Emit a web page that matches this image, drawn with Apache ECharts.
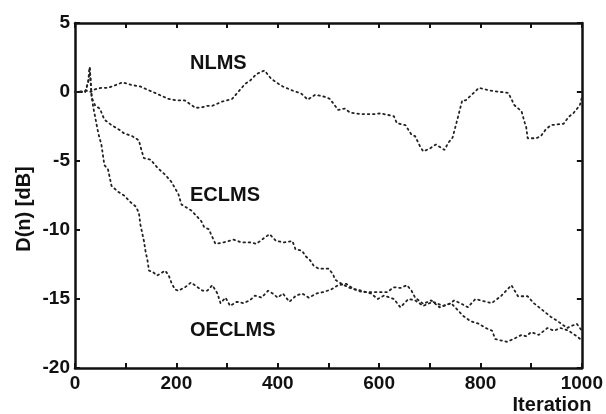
<!DOCTYPE html>
<html>
<head>
<meta charset="utf-8">
<script src="https://cdn.jsdelivr.net/npm/echarts@6/dist/echarts.min.js"></script>
<style>
  html, body { margin: 0; padding: 0; background: #fff; }
  #chart { width: 606px; height: 414px; }
</style>
</head>
<body>
<div id="chart"></div>
<script>
"use strict";

// NLMS 曲线
const nlmsX = [0, 13, 26, 31, 40, 52, 65, 80, 94, 113, 129, 141, 160, 184, 200, 216, 238, 252, 261, 271, 290, 310, 336, 346, 358, 374, 387, 404, 410, 433, 446, 459, 474, 493, 503, 519, 532, 543, 564, 590, 603, 629, 635, 652, 664, 671, 681, 687, 700, 712, 729, 736, 745, 755, 764, 771, 797, 819, 855, 867, 881, 887, 890, 893, 910, 919, 929, 939, 964, 974, 983, 996, 1000];
const nlmsY = [0, 0.05, 0.1, 0, 0.2, 0.3, 0.3, 0.5, 0.7, 0.5, 0.4, 0.2, -0.1, -0.5, -0.6, -0.6, -1.15, -1.1, -1.0, -1.0, -0.7, -0.5, 0.6, 0.84, 1.3, 1.56, 0.96, 0.53, 0.4, 0.05, -0.1, -0.55, -0.2, -0.35, -0.5, -1.3, -1.2, -1.5, -1.6, -1.6, -1.55, -1.75, -2.26, -2.4, -3.1, -3.2, -3.96, -4.3, -4.1, -3.8, -4.2, -3.7, -3.3, -1.9, -0.6, -0.6, 0.3, 0.1, -0.07, -0.96, -1.4, -2.2, -2.5, -3.35, -3.35, -3.2, -2.7, -2.4, -2.3, -1.8, -1.55, -0.96, -0.4];

// ECLMS 曲线
const eclmsX = [0, 20, 26, 29, 33, 40, 49, 58, 72, 88, 97, 113, 126, 131, 136, 149, 163, 178, 190, 204, 210, 230, 249, 255, 264, 277, 293, 313, 329, 345, 358, 374, 384, 397, 413, 429, 435, 448, 455, 464, 471, 481, 500, 509, 513, 526, 542, 565, 584, 597, 610, 629, 642, 658, 671, 687, 706, 726, 742, 755, 765, 780, 797, 810, 823, 829, 840, 852, 865, 881, 890, 900, 915, 932, 945, 958, 974, 990, 1000];
const eclmsY = [0, 0, 0.7, 1.8, -0.4, -1.0, -1.2, -2.0, -2.4, -2.75, -3.0, -3.2, -3.5, -4.2, -4.8, -4.9, -5.5, -6.0, -6.5, -7.4, -8.15, -8.6, -9.35, -9.8, -9.95, -11.0, -10.9, -10.7, -10.9, -10.9, -11.0, -10.55, -10.3, -10.8, -10.9, -10.8, -11.4, -11.5, -11.9, -12.2, -12.6, -12.8, -12.8, -13.2, -13.6, -13.9, -14.2, -14.4, -14.6, -15.0, -14.75, -15.0, -15.6, -15.0, -15.1, -15.5, -15.2, -15.5, -15.3, -15.8, -16.2, -16.6, -16.8, -17.1, -17.3, -17.9, -18.0, -18.1, -17.9, -17.6, -17.7, -17.4, -17.6, -17.1, -17.3, -17.1, -17.3, -17.7, -18.0];

// OECLMS 曲线
const oeclmsX = [0, 20, 26, 29, 33, 36, 46, 52, 55, 58, 65, 68, 72, 84, 97, 110, 120, 126, 129, 136, 139, 143, 146, 152, 162, 178, 185, 190, 197, 204, 217, 229, 242, 252, 261, 271, 281, 287, 297, 306, 319, 332, 345, 355, 368, 381, 390, 400, 410, 423, 436, 448, 461, 477, 490, 506, 519, 535, 551, 567, 597, 616, 629, 642, 655, 664, 671, 687, 703, 719, 739, 748, 760, 775, 790, 800, 822, 840, 861, 874, 893, 905, 919, 939, 952, 971, 983, 990, 1000];
const oeclmsY = [0, 0, 0.7, 1.8, -0.4, -1.1, -3.0, -3.8, -4.55, -5.3, -5.6, -6.1, -6.8, -7.2, -7.5, -8.0, -8.3, -8.75, -9.6, -10.8, -11.5, -12.2, -12.95, -13.0, -13.3, -12.95, -13.3, -13.8, -14.3, -14.4, -14.15, -13.8, -14.15, -14.4, -14.4, -14.0, -14.6, -15.3, -14.9, -15.5, -15.2, -15.3, -15.1, -14.75, -14.9, -14.4, -14.6, -14.9, -14.6, -15.2, -14.75, -14.6, -14.9, -14.6, -14.5, -14.3, -14.0, -13.9, -14.3, -14.5, -14.5, -14.5, -14.15, -14.2, -14.0, -14.4, -14.9, -15.35, -15.1, -15.6, -15.35, -15.1, -15.3, -15.6, -15.0, -15.1, -15.3, -14.8, -14.0, -14.8, -14.8, -15.3, -15.7, -16.3, -16.6, -17.1, -16.9, -16.8, -17.3];

// 坐标轴刻度
const xTicks = [0, 200, 400, 600, 800, 1000];
const yTicks = [5, 0, -5, -10, -15, -20];

function pairs(xs, ys) {
  return xs.map((x, i) => [x, ys[i]]);
}

const FONT = '"Liberation Sans", Arial, Helvetica, sans-serif';
const INK = '#111';

let myChart = echarts.init(document.getElementById('chart'));

// 扫描图里的点线比较稀疏
const lineStyle = {
  color: '#222',
  width: 1.8,
  type: [1.6, 3.6],
  cap: 'round',
};

const xCommon = {
  type: 'value',
  min: 0,
  max: 1000,
  interval: 100,
  splitLine: { show: false },
  axisLine: { show: true, onZero: false, lineStyle: { color: INK, width: 2.5 } },
  axisTick: { show: true, inside: true, length: 5, lineStyle: { color: INK, width: 2 } },
};

const yCommon = {
  type: 'value',
  min: -20,
  max: 5,
  interval: 5,
  splitLine: { show: false },
  axisLine: { show: true, onZero: false, lineStyle: { color: INK, width: 2.5 } },
  axisTick: { show: true, inside: true, length: 5, lineStyle: { color: INK, width: 2 } },
};

let option = {
  animation: false,
  backgroundColor: '#fff',
  grid: { left: 75, right: 13, top: 23, bottom: 46 },
  xAxis: [
    Object.assign({}, xCommon, {
      position: 'bottom',
      axisLabel: {
        margin: 6,
        color: INK,
        fontFamily: FONT,
        fontWeight: 'bold',
        fontSize: 19,
        // 只显示 200 的倍数
        formatter: v => (xTicks.indexOf(v) >= 0 ? String(v) : ''),
      },
    }),
    Object.assign({}, xCommon, { position: 'top', axisLabel: { show: false } }),
  ],
  yAxis: [
    Object.assign({}, yCommon, {
      position: 'left',
      axisLabel: {
        margin: 5,
        color: INK,
        fontFamily: FONT,
        fontWeight: 'bold',
        fontSize: 19,
        formatter: v => (yTicks.indexOf(v) >= 0 ? String(v) : ''),
      },
    }),
    Object.assign({}, yCommon, { position: 'right', axisLabel: { show: false } }),
  ],
  series: [
    { name: 'NLMS', data: pairs(nlmsX, nlmsY) },
    { name: 'ECLMS', data: pairs(eclmsX, eclmsY) },
    { name: 'OECLMS', data: pairs(oeclmsX, oeclmsY) },
  ].map(s => Object.assign({
    type: 'line',
    xAxisIndex: 0,
    yAxisIndex: 0,
    showSymbol: false,
    smooth: false,
    lineStyle: lineStyle,
  }, s)),
  graphic: [
    { type: 'text', left: 190, top: 53, style: { text: 'NLMS', font: 'bold 20px ' + FONT, fill: INK } },
    { type: 'text', left: 190, top: 185, style: { text: 'ECLMS', font: 'bold 20px ' + FONT, fill: INK } },
    { type: 'text', left: 190, top: 320, style: { text: 'OECLMS', font: 'bold 20px ' + FONT, fill: INK } },
    { type: 'text', x: 24, y: 209, rotation: Math.PI / 2,
      style: { text: 'D(n) [dB]', font: 'bold 20px ' + FONT, fill: INK, align: 'center', verticalAlign: 'middle' } },
    { type: 'text', x: 552, y: 405,
      style: { text: 'Iteration', font: 'bold 20px ' + FONT, fill: INK, align: 'center', verticalAlign: 'middle' } },
  ],
};

myChart.setOption(option);
</script>
</body>
</html>
